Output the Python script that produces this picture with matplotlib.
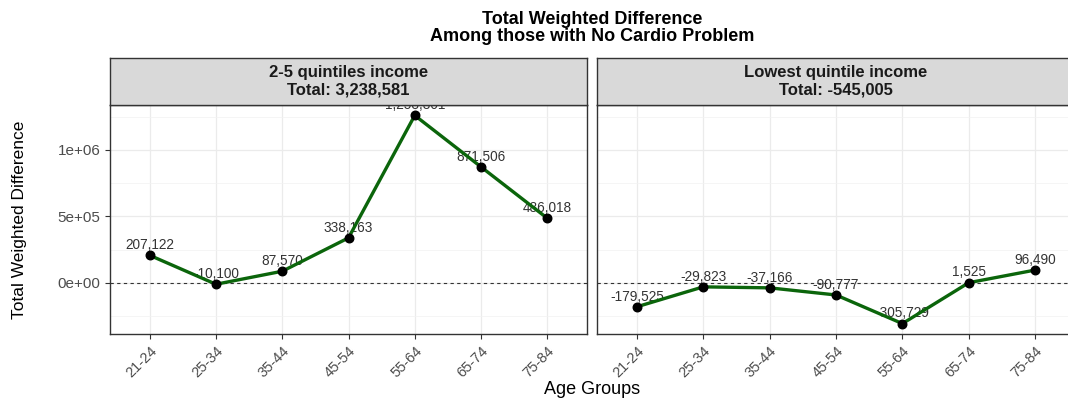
import matplotlib
matplotlib.use("Agg")
import matplotlib.pyplot as plt
import matplotlib.transforms as mtransforms
import numpy as np
from matplotlib.ticker import FuncFormatter, MultipleLocator

plt.rcParams['font.family'] = ['Liberation Sans', 'DejaVu Sans']

age_groups = ["21-24", "25-34", "35-44", "45-54", "55-64", "65-74", "75-84"]
panel_titles = ["2-5 quintiles income\nTotal: 3,238,581", "Lowest quintile income\nTotal: -545,005"]
values_high = [207122, -10100, 87570, 338163, 1258301, 871506, 486018]
values_low = [-179525, -29823, -37166, -90777, -305729, 1525, 96490]
series = [values_high, values_low]

W, H = 1068, 401
fig = plt.figure(figsize=(W / 100, H / 100), dpi=100)

def px_rect(x0, y0, x1, y1):
    return [x0 / W, (H - y1) / H, (x1 - x0) / W, (y1 - y0) / H]

all_vals = np.array(values_high + values_low, dtype=float)
rng = all_vals.max() - all_vals.min()
ylim = (all_vals.min() - 0.05 * rng, all_vals.max() + 0.05 * rng)

panels = [(110, 587), (597, 1075)]
ptop, pbot, stop = 105, 334, 58
edge = "#333333"
x = np.arange(len(age_groups))

def sci(v, pos):
    if v == 0:
        return "0e+00"
    exp = int(np.floor(np.log10(abs(v))))
    mant = v / 10 ** exp
    return f"{mant:g}e+{exp:02d}"

shift = mtransforms.ScaledTranslation(8 / 100, -2 / 100, fig.dpi_scale_trans)

for i, ((x0, x1), vals, title) in enumerate(zip(panels, series, panel_titles)):
    ax = fig.add_axes(px_rect(x0, ptop, x1, pbot))
    ax.set_xlim(-0.6, len(age_groups) - 1 + 0.6)
    ax.set_ylim(*ylim)
    ax.yaxis.set_major_locator(MultipleLocator(5e5))
    ax.yaxis.set_minor_locator(MultipleLocator(2.5e5))
    ax.grid(which='major', color='#EBEBEB', linewidth=0.9)
    ax.grid(which='minor', axis='y', color='#F2F2F2', linewidth=0.5)
    ax.set_axisbelow(True)
    ax.axhline(0, color='#333333', linestyle=(0, (3, 3)), linewidth=0.8, zorder=1.5)
    for xi, v in zip(x, vals):
        ax.annotate(f"{v:,}", (xi, v), xytext=(0, 4.5), textcoords='offset points',
                    ha='center', va='baseline', fontsize=9.8, color='#333333',
                    zorder=2, annotation_clip=False, clip_on=True)
    ax.plot(x, vals, color='#0B650B', linewidth=2.4, zorder=3)
    ax.scatter(x, vals, s=38, color='black', zorder=4)
    ax.set_xticks(x)
    ax.set_xticklabels(age_groups, rotation=45, ha='right', va='top',
                       rotation_mode='anchor', fontsize=10.5, color='#4D4D4D')
    for lab in ax.get_xticklabels():
        lab.set_transform(lab.get_transform() + shift)
    ax.tick_params(axis='both', which='major', length=3.5, color='#333333', width=0.8)
    ax.tick_params(axis='y', which='minor', length=0)
    ax.tick_params(axis='y', labelsize=11, labelcolor='#4D4D4D')
    ax.yaxis.set_major_formatter(FuncFormatter(sci))
    if i > 0:
        ax.tick_params(axis='y', which='major', length=0, labelleft=False)
    for s in ax.spines.values():
        s.set_color(edge)
        s.set_linewidth(1.0)
    ax.set_zorder(1)

    sax = fig.add_axes(px_rect(x0, stop, x1, ptop))
    sax.set_facecolor('#D9D9D9')
    sax.set_xticks([])
    sax.set_yticks([])
    for s in sax.spines.values():
        s.set_color(edge)
        s.set_linewidth(1.0)
    sax.text(0.5, 0.5, title, ha='center', va='center', fontsize=12,
             fontweight='bold', color='#1A1A1A', transform=sax.transAxes, linespacing=1.2)
    sax.set_zorder(2)

fig.text(592 / W, 1 - 28 / H, "Total Weighted Difference\nAmong those with No Cardio Problem",
         ha='center', va='center', fontsize=13, fontweight='bold', color='black', linespacing=1.0)
fig.text(20 / W, 1 - 220 / H, "Total Weighted Difference", rotation=90, ha='center', va='center',
         fontsize=12.5, color='black')
fig.text(592 / W, 1 - 389 / H, "Age Groups", ha='center', va='center', fontsize=13, color='black')

fig.savefig("out.png", dpi=100)
